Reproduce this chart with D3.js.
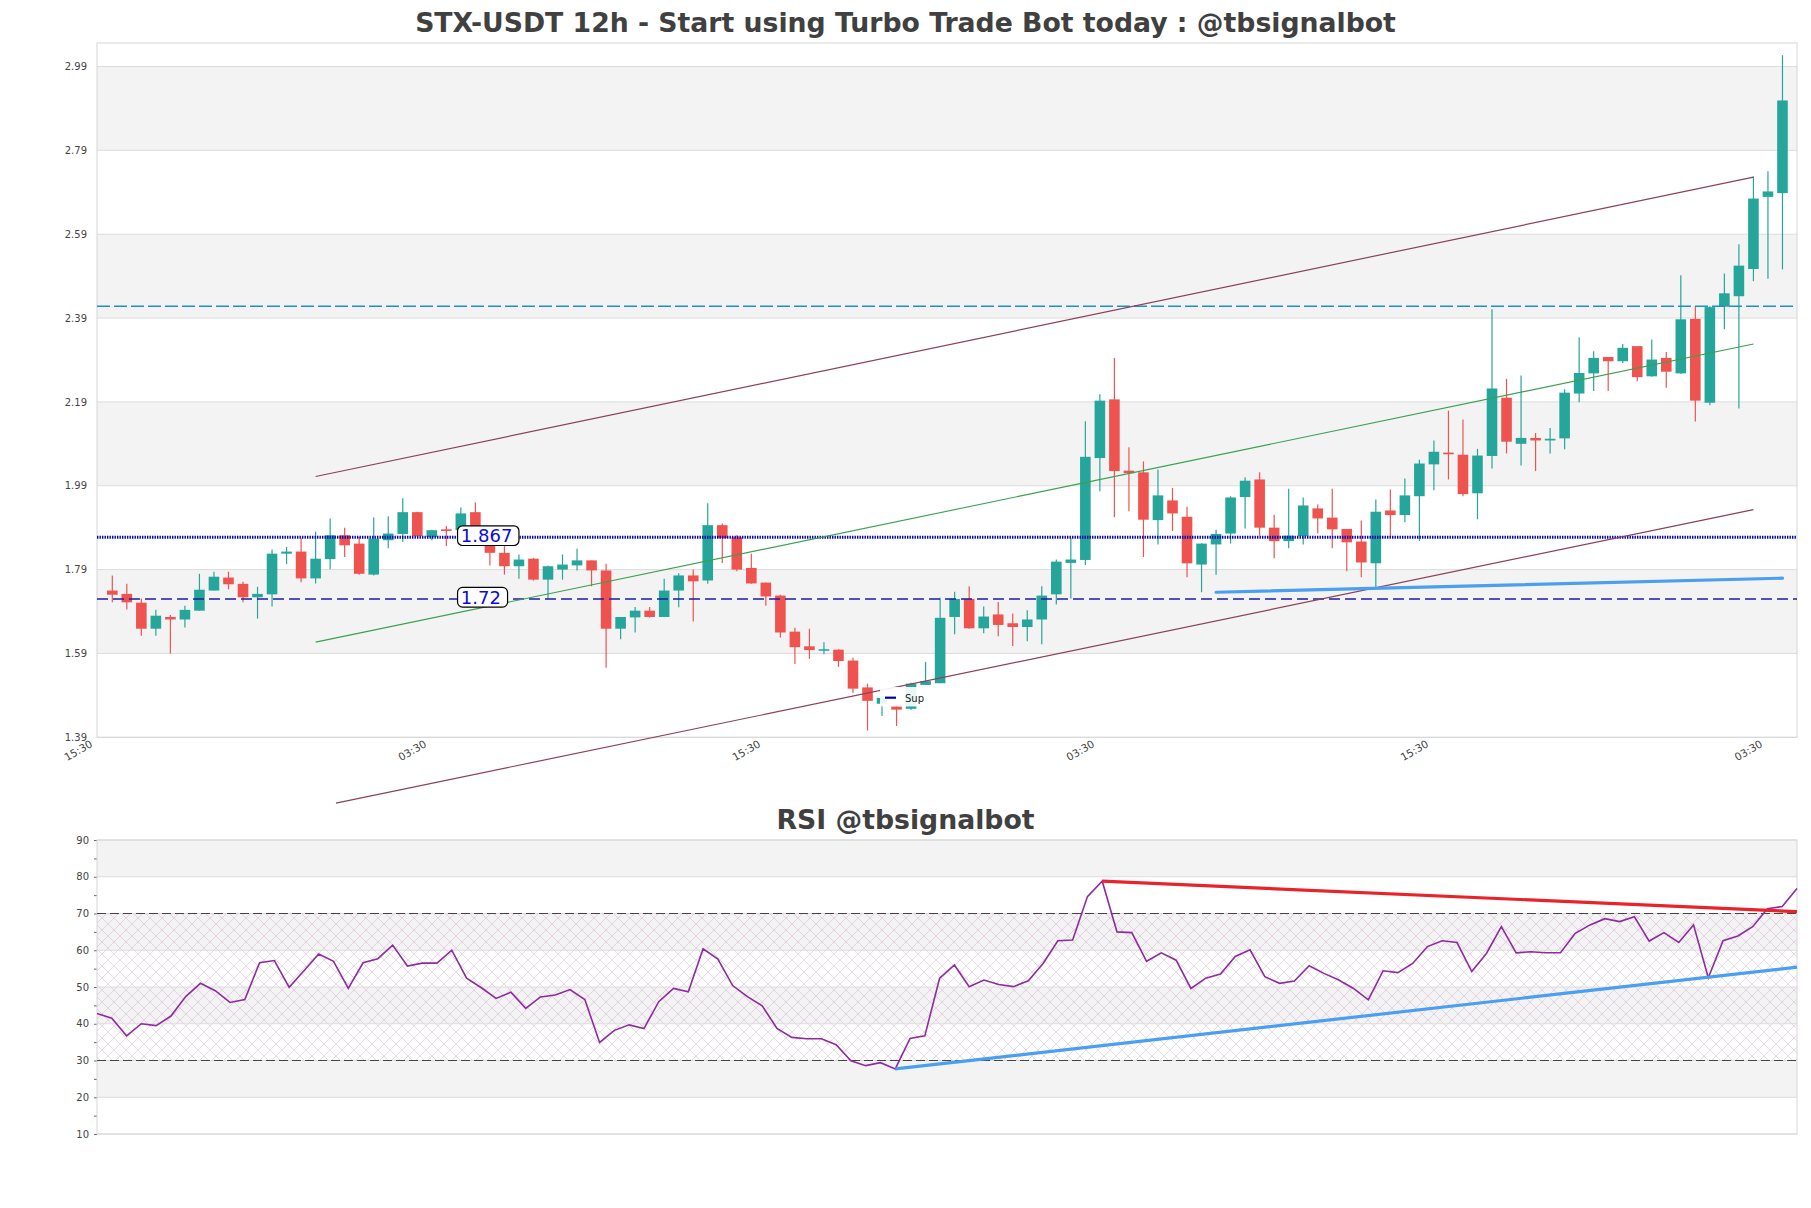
<!DOCTYPE html>
<html>
<head>
<meta charset="utf-8">
<script src="https://cdn.jsdelivr.net/npm/d3@7"></script>
<style>
body { margin: 0; background: #fff; }
text { font-family: "DejaVu Sans", sans-serif; }
</style>
</head>
<body>
<script>
var width = 1811,
    height = 1208;

// 12h candles
var opens = [1.740,1.732,1.711,1.649,1.677,1.671,1.692,1.740,1.771,1.756,1.724,1.731,1.828,1.833,1.769,1.815,1.872,1.852,1.778,1.860,
  1.875,1.927,1.868,1.886,1.884,1.927,1.866,1.830,1.798,1.816,1.766,1.790,1.800,1.812,1.788,1.649,1.676,1.692,1.677,1.740,
  1.776,1.764,1.896,1.867,1.794,1.759,1.728,1.642,1.607,1.597,1.599,1.573,1.509,1.470,1.464,1.458,1.515,1.519,1.677,1.720,
  1.650,1.683,1.662,1.653,1.671,1.731,1.806,1.813,2.056,2.196,2.026,2.022,1.908,1.955,1.916,1.802,1.850,1.876,1.963,2.005,
  1.890,1.858,1.870,1.936,1.914,1.887,1.857,1.805,1.931,1.920,1.965,2.041,2.069,2.064,1.972,2.061,2.200,2.090,2.104,2.098,
  2.103,2.210,2.258,2.297,2.287,2.323,2.251,2.295,2.258,2.388,2.188,2.417,2.442,2.507,2.679,2.688];
var highs = [1.776,1.756,1.721,1.694,1.682,1.704,1.780,1.785,1.785,1.761,1.749,1.838,1.844,1.865,1.880,1.912,1.890,1.868,1.914,1.917,
  1.960,1.928,1.885,1.894,1.938,1.950,1.872,1.846,1.826,1.818,1.800,1.826,1.840,1.812,1.804,1.677,1.701,1.701,1.768,1.781,
  1.790,1.948,1.900,1.872,1.828,1.759,1.730,1.651,1.649,1.617,1.600,1.580,1.518,1.490,1.466,1.520,1.570,1.723,1.737,1.750,
  1.702,1.713,1.685,1.693,1.750,1.814,1.866,2.144,2.208,2.295,2.082,2.048,2.029,1.985,1.940,1.853,1.885,1.965,2.010,2.022,
  1.921,1.983,1.962,1.945,1.983,1.887,1.907,1.957,1.981,2.007,2.052,2.098,2.169,2.148,2.078,2.411,2.245,2.253,2.116,2.128,
  2.220,2.344,2.311,2.297,2.328,2.323,2.339,2.309,2.492,2.418,2.418,2.496,2.566,2.728,2.740,3.017];
var lows = [1.712,1.695,1.632,1.632,1.590,1.652,1.692,1.740,1.743,1.712,1.673,1.702,1.803,1.760,1.757,1.791,1.820,1.778,1.776,1.841,
  1.856,1.868,1.860,1.846,1.884,1.860,1.800,1.778,1.768,1.764,1.720,1.766,1.788,1.750,1.556,1.624,1.640,1.676,1.677,1.700,
  1.666,1.756,1.806,1.786,1.756,1.704,1.628,1.565,1.577,1.588,1.558,1.496,1.406,1.441,1.417,1.455,1.515,1.519,1.636,1.649,
  1.638,1.631,1.608,1.619,1.612,1.707,1.721,1.801,1.977,1.915,1.929,1.820,1.850,1.882,1.772,1.736,1.778,1.852,1.888,1.871,
  1.817,1.841,1.850,1.876,1.841,1.786,1.772,1.749,1.867,1.903,1.858,1.979,2.005,1.965,1.910,2.031,2.067,2.038,2.025,2.067,
  2.077,2.189,2.216,2.216,2.283,2.239,2.250,2.224,2.257,2.143,2.182,2.363,2.174,2.478,2.484,2.506];
var closes = [1.730,1.712,1.649,1.680,1.671,1.694,1.742,1.773,1.755,1.724,1.732,1.828,1.833,1.769,1.816,1.872,1.848,1.780,1.864,1.876,
  1.927,1.870,1.884,1.882,1.924,1.866,1.830,1.798,1.814,1.766,1.798,1.802,1.812,1.788,1.649,1.677,1.692,1.677,1.740,1.776,
  1.762,1.896,1.865,1.790,1.757,1.726,1.640,1.605,1.598,1.600,1.572,1.506,1.477,1.484,1.456,1.518,1.524,1.675,1.720,1.650,
  1.678,1.658,1.653,1.671,1.728,1.809,1.814,2.059,2.193,2.025,2.020,1.909,1.967,1.924,1.805,1.852,1.875,1.962,2.002,1.890,
  1.858,1.871,1.943,1.912,1.886,1.855,1.807,1.928,1.920,1.967,2.043,2.071,2.065,1.970,2.062,2.222,2.095,2.104,2.098,2.102,
  2.212,2.259,2.295,2.287,2.319,2.249,2.291,2.262,2.387,2.193,2.416,2.449,2.515,2.675,2.692,2.909];

var rsi = [42.8,41.5,36.7,40.0,39.5,42.1,47.4,51.0,49.0,45.8,46.6,56.6,57.2,49.9,54.4,59.0,57.0,49.6,56.6,57.7,
  61.4,55.7,56.5,56.5,60.0,52.4,49.8,46.9,48.6,44.2,47.3,47.8,49.3,46.6,34.9,38.2,39.7,38.7,46.0,49.6,
  48.7,60.4,57.6,50.4,47.4,44.9,38.7,36.3,35.9,35.9,34.3,29.9,28.6,29.4,27.7,36.0,36.7,52.4,56.0,50.1,
  51.9,50.7,50.1,51.7,56.4,62.6,62.8,74.6,78.8,65.0,64.8,57.0,59.3,57.3,49.6,52.4,53.5,58.3,60.1,52.8,
  51.0,51.6,55.8,53.7,51.9,49.6,46.5,54.4,53.9,56.4,61.0,62.6,62.1,54.2,59.2,66.4,59.3,59.6,59.3,59.3,
  64.6,66.9,68.6,67.8,69.1,62.5,64.8,62.1,66.9,52.5,62.6,63.9,66.4,71.3,71.9,76.8];

var priceTicks = [1.39, 1.59, 1.79, 1.99, 2.19, 2.39, 2.59, 2.79, 2.99];
var rsiTicks = [10, 20, 30, 40, 50, 60, 70, 80, 90];
var xTickIndex = [-1, 22, 45, 68, 91, 114];
var xTickLabels = ["15:30", "03:30", "15:30", "03:30", "15:30", "03:30"];

var resistanceLevel = 2.418,
    pivotLevel = 1.867,
    supportLevel = 1.72;

var upperChannel = [[14, 2.012], [113, 2.726]],
    midChannel = [[14, 1.617], [113, 2.328]],
    lowerChannel = [[15.4, 1.233], [113, 1.933]],
    supTrend = [[76, 1.736], [115, 1.7695]];

var rsiResTrend = [[68, 78.8], [115, 70.5]],
    rsiSupTrend = [[54, 27.7], [115, 55.4]];

var green = "#26a69a",
    red = "#ef5350",
    band = "#f3f3f3",
    grid = "#dcdcdc";

var svg = d3.select("body").append("svg")
    .attr("width", width)
    .attr("height", height);

svg.append("rect").attr("width", width).attr("height", height).attr("fill", "#fff");

var defs = svg.append("defs");
var hatch = defs.append("pattern")
    .attr("id", "hatch")
    .attr("patternUnits", "userSpaceOnUse")
    .attr("width", 12)
    .attr("height", 12);
hatch.append("path")
    .attr("d", "M0,0L12,12M12,0L0,12")
    .attr("stroke", "#cfaecf")
    .attr("stroke-width", 0.6)
    .attr("fill", "none");

// ---------- price panel ----------
var px0 = 97, px1 = 1797, py0 = 43, py1 = 737.3;

var x = d3.scaleLinear().domain([-1.053, 116]).range([px0, px1]),
    y = d3.scaleLinear().domain([1.39, 3.046]).range([py1, py0]);

var price = svg.append("g");

price.selectAll("rect.band")
    .data(priceTicks.filter(function(d, i) { return i % 2 == 1 && i < priceTicks.length - 1; }))
  .enter().append("rect")
    .attr("class", "band")
    .attr("x", px0)
    .attr("width", px1 - px0)
    .attr("y", function(d) { return y(d + 0.2); })
    .attr("height", function(d) { return y(d) - y(d + 0.2); })
    .attr("fill", band);

price.selectAll("line.grid")
    .data(priceTicks)
  .enter().append("line")
    .attr("class", "grid")
    .attr("x1", px0).attr("x2", px1)
    .attr("y1", function(d) { return y(d); })
    .attr("y2", function(d) { return y(d); })
    .attr("stroke", grid);

var yAxis = price.append("g")
    .attr("transform", "translate(" + px0 + ",0)")
    .call(d3.axisLeft(y).tickValues(priceTicks).tickSize(0).tickPadding(10).tickFormat(d3.format(".2f")));
yAxis.select(".domain").remove();
yAxis.selectAll("text").attr("font-size", 10).attr("fill", "#444").attr("font-family", "DejaVu Sans");

var xAxis = price.append("g")
    .attr("transform", "translate(0," + py1 + ")")
    .call(d3.axisBottom(x).tickValues(xTickIndex).tickSize(0)
      .tickFormat(function(d, i) { return xTickLabels[i]; }));
xAxis.select(".domain").remove();
xAxis.selectAll("text")
    .attr("y", 0)
    .attr("dy", "0.75em")
    .attr("text-anchor", "end")
    .attr("transform", "translate(-9,2)rotate(-30)")
    .attr("font-size", 10.5)
    .attr("fill", "#444")
    .attr("font-family", "DejaVu Sans");

price.append("rect")
    .attr("x", px0).attr("y", py0)
    .attr("width", px1 - px0).attr("height", py1 - py0)
    .attr("fill", "none")
    .attr("stroke", "#d6d6d6");

var candles = d3.range(opens.length);
var bodyW = 10.6;

var c = price.selectAll("g.candle")
    .data(candles)
  .enter().append("g")
    .attr("class", "candle")
    .attr("fill", function(i) { return closes[i] >= opens[i] ? green : red; })
    .attr("stroke", function(i) { return closes[i] >= opens[i] ? green : red; });

c.append("line")
    .attr("x1", function(i) { return x(i); })
    .attr("x2", function(i) { return x(i); })
    .attr("y1", function(i) { return y(highs[i]); })
    .attr("y2", function(i) { return y(lows[i]); })
    .attr("stroke-width", 1.2);

c.append("rect")
    .attr("x", function(i) { return x(i) - bodyW / 2; })
    .attr("width", bodyW)
    .attr("y", function(i) { return y(Math.max(opens[i], closes[i])); })
    .attr("height", function(i) { return Math.max(1.5, Math.abs(y(opens[i]) - y(closes[i]))); })
    .attr("stroke", "none");

function hline(level, color, w, dash) {
    price.append("line")
        .attr("x1", px0).attr("x2", px1)
        .attr("y1", y(level)).attr("y2", y(level))
        .attr("stroke", color)
        .attr("stroke-width", w)
        .attr("stroke-dasharray", dash);
}

hline(resistanceLevel, "#1c8fcf", 1.4, "13,4");
hline(pivotLevel, "#0000b8", 3, "1.4,1.1");
hline(supportLevel, "#1c1ca8", 1.5, "11,5");

var line = d3.line()
    .x(function(d) { return x(d[0]); })
    .y(function(d) { return y(d[1]); });

price.append("path").datum(upperChannel).attr("d", line)
    .attr("stroke", "#8a4258").attr("stroke-width", 1.2).attr("fill", "none");
price.append("path").datum(lowerChannel).attr("d", line)
    .attr("stroke", "#8a4258").attr("stroke-width", 1.2).attr("fill", "none");
price.append("path").datum(midChannel).attr("d", line)
    .attr("stroke", "#3aa050").attr("stroke-width", 1.1).attr("fill", "none");
price.append("path").datum(supTrend).attr("d", line)
    .attr("stroke", "#4a9ff0").attr("stroke-width", 3.2).attr("fill", "none")
    .attr("stroke-linecap", "round");

// level labels
[[pivotLevel, "1.867", 61.4], [supportLevel, "1.72", 50]].forEach(function(d) {
    var lx = x(24);
    price.append("rect")
        .attr("x", lx - 3.3).attr("y", y(d[0]) - 11.5)
        .attr("width", d[2]).attr("height", 19.7)
        .attr("rx", 5)
        .attr("fill", "#fff")
        .attr("stroke", "#000")
        .attr("stroke-width", 1.2);
    price.append("text")
        .attr("x", lx).attr("y", y(d[0]) + 4.8)
        .attr("font-size", 18)
        .attr("fill", "#0a0adc")
        .text(d[1]);
});

// legend
var leg = price.append("g");
leg.append("rect")
    .attr("x", 880).attr("y", 687)
    .attr("width", 51).attr("height", 19.5)
    .attr("fill", "#fff").attr("opacity", 0.9);
leg.append("line")
    .attr("x1", 885).attr("x2", 896)
    .attr("y1", 697.7).attr("y2", 697.7)
    .attr("stroke", "#0000a0").attr("stroke-width", 2.2);
leg.append("text")
    .attr("x", 905).attr("y", 701.5)
    .attr("font-size", 10).attr("fill", "#222")
    .text("Sup");

svg.append("text")
    .attr("x", 905.5).attr("y", 31.5)
    .attr("text-anchor", "middle")
    .attr("font-size", 26.7)
    .attr("font-weight", "bold")
    .attr("fill", "#404040")
    .text("STX-USDT 12h - Start using Turbo Trade Bot today : @tbsignalbot");

// ---------- RSI panel ----------
var ry0 = 840, ry1 = 1134;

var rx = d3.scaleLinear().domain([0, rsi.length - 1]).range([px0, px1]),
    ry = d3.scaleLinear().domain([10, 90]).range([ry1, ry0]);

var r = svg.append("g");

r.selectAll("rect.band")
    .data(rsiTicks.filter(function(d, i) { return i % 2 == 1 && i < rsiTicks.length - 1; }))
  .enter().append("rect")
    .attr("class", "band")
    .attr("x", px0)
    .attr("width", px1 - px0)
    .attr("y", function(d) { return ry(d + 10); })
    .attr("height", function(d) { return ry(d) - ry(d + 10); })
    .attr("fill", band);

r.append("rect")
    .attr("x", px0).attr("width", px1 - px0)
    .attr("y", ry(70)).attr("height", ry(30) - ry(70))
    .attr("fill", "url(#hatch)")
    .attr("opacity", 0.8);

r.selectAll("line.grid")
    .data(rsiTicks)
  .enter().append("line")
    .attr("class", "grid")
    .attr("x1", px0).attr("x2", px1)
    .attr("y1", function(d) { return ry(d); })
    .attr("y2", function(d) { return ry(d); })
    .attr("stroke", grid);

var rAxis = r.append("g")
    .attr("transform", "translate(" + px0 + ",0)")
    .call(d3.axisLeft(ry).tickValues(d3.range(10, 91, 5)).tickSize(3).tickPadding(5)
      .tickFormat(function(d) { return d % 10 == 0 ? d : ""; }));
rAxis.select(".domain").remove();
rAxis.selectAll("line").attr("stroke", "#666");
rAxis.selectAll("text").attr("font-size", 10).attr("fill", "#444").attr("font-family", "DejaVu Sans");

r.append("rect")
    .attr("x", px0).attr("y", ry0)
    .attr("width", px1 - px0).attr("height", ry1 - ry0)
    .attr("fill", "none")
    .attr("stroke", "#d6d6d6");

[70, 30].forEach(function(v) {
    r.append("line")
        .attr("x1", px0).attr("x2", px1)
        .attr("y1", ry(v)).attr("y2", ry(v))
        .attr("stroke", "#444")
        .attr("stroke-width", 1.2)
        .attr("stroke-dasharray", "9,4");
});

var rline = d3.line()
    .x(function(d) { return rx(d[0]); })
    .y(function(d) { return ry(d[1]); });

r.append("path")
    .datum(rsi.map(function(v, i) { return [i, v]; }))
    .attr("d", rline)
    .attr("fill", "none")
    .attr("stroke", "#8f2a9f")
    .attr("stroke-width", 1.6);

r.append("path").datum(rsiResTrend).attr("d", rline)
    .attr("stroke", "#e8242a").attr("stroke-width", 3.2).attr("fill", "none");
r.append("path").datum(rsiSupTrend).attr("d", rline)
    .attr("stroke", "#4a9ff0").attr("stroke-width", 3.2).attr("fill", "none");

svg.append("text")
    .attr("x", 905.5).attr("y", 829)
    .attr("text-anchor", "middle")
    .attr("font-size", 26.7)
    .attr("font-weight", "bold")
    .attr("fill", "#404040")
    .text("RSI @tbsignalbot");
</script>
</body>
</html>
